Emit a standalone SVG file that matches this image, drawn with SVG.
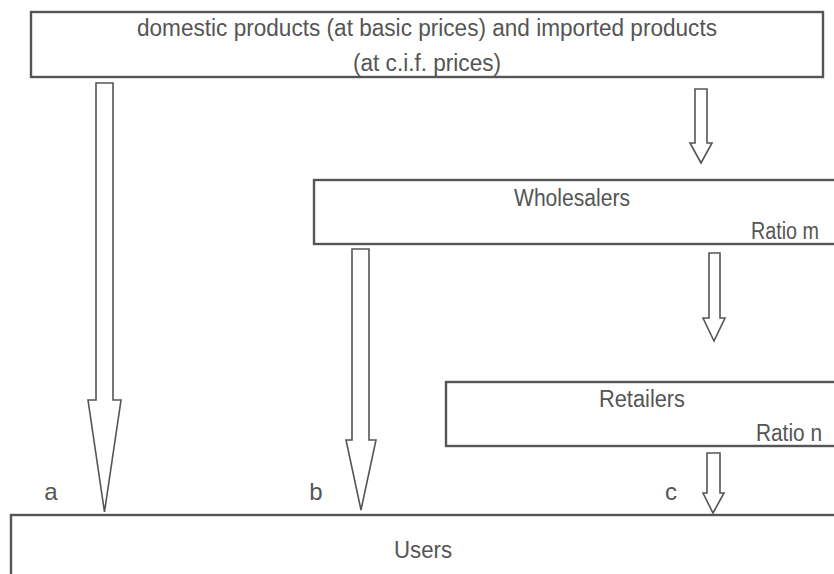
<svg xmlns="http://www.w3.org/2000/svg" width="834" height="574" viewBox="0 0 834 574">
<style>
.box{fill:#fff;stroke:#555;stroke-width:2.4}
.arr{fill:#fff;stroke:#555;stroke-width:1.6;stroke-linejoin:miter}
text{font-family:"Liberation Sans Narrow","Liberation Sans",Arial,sans-serif;font-size:23.5px;fill:#555}
.c{text-anchor:middle}
.r{text-anchor:end}
.lbl{font-size:24px}
</style>
<rect width="834" height="574" fill="#fff"/>
<g id="source">
<rect class="box" x="31" y="12" width="792" height="65"/>
<text class="c" x="427" y="36" textLength="580" lengthAdjust="spacingAndGlyphs">domestic products (at basic prices) and imported products</text>
<text class="c" x="427" y="71" textLength="148" lengthAdjust="spacingAndGlyphs">(at c.i.f. prices)</text>
</g>
<g id="wholesalers">
<rect class="box" x="314" y="180" width="540" height="64"/>
<text class="c" x="572" y="206" textLength="116" lengthAdjust="spacingAndGlyphs">Wholesalers</text>
<text class="r" x="819" y="239" textLength="68" lengthAdjust="spacingAndGlyphs">Ratio m</text>
</g>
<g id="retailers">
<rect class="box" x="446" y="382" width="400" height="64"/>
<text class="c" x="642" y="407" textLength="86" lengthAdjust="spacingAndGlyphs">Retailers</text>
<text class="r" x="822" y="441" textLength="66" lengthAdjust="spacingAndGlyphs">Ratio n</text>
</g>
<g id="users">
<rect class="box" x="11" y="515" width="840" height="80"/>
<text class="c" x="423" y="558" textLength="58" lengthAdjust="spacingAndGlyphs">Users</text>
</g>
<g id="labels">
<text class="c lbl" x="51" y="500">a</text>
<text class="c lbl" x="316" y="500">b</text>
<text class="c lbl" x="671" y="500">c</text>
</g>
<g id="connectors">
<polygon class="arr" points="96,83 113,83 113,400 121,400 104.5,512 88,400 96,400"/>
<polygon class="arr" points="695,89 707,89 707,143 712,143 701,163 690,143 695,143"/>
<polygon class="arr" points="352,249 369,249 369,440 376,440 361,510 346,440 352,440"/>
<polygon class="arr" points="709,253 720,253 720,318 725,318 714,341 703,318 709,318"/>
<polygon class="arr" points="707,453 720,453 720,493 724,493 713,513 703,493 707,493"/>
</g>
</svg>
